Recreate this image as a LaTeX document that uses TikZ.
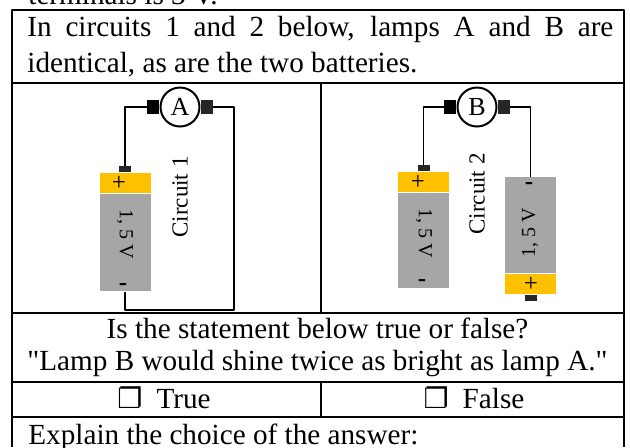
\documentclass[tikz,border=0pt]{standalone}
\usepackage{fontspec}
\setmainfont{Liberation Serif}
\newfontfamily\boxfont{DejaVu Sans}
\usetikzlibrary{positioning}
\definecolor{capyellow}{HTML}{FFC000}
\definecolor{cellgrey}{HTML}{A6A6A6}
\definecolor{plugdark}{HTML}{262626}
\newcommand{\tickbox}{{\boxfont\fontsize{14}{16}\selectfont ❐}}

\begin{document}
\begin{tikzpicture}[
		x=0.5pt,
		y=-0.5pt,
		line join=round,
		txt/.style={inner sep=0pt, font=\fontsize{14.6}{17}\selectfont},
		rule/.style={line width=1pt},
		wire/.style={line width=0.65pt},
		lamp/.style={circle, draw, line width=1pt, minimum size=19.5pt, inner sep=0pt, font=\fontsize{13}{15}\selectfont},
		plug/.style={fill=#1, minimum width=6pt, minimum height=7pt, inner sep=0pt},
		term/.style={fill=plugdark, minimum width=6pt, minimum height=3pt, inner sep=0pt},
		poscap/.style={fill=capyellow, minimum width=25.5pt, minimum height=10pt, inner sep=0pt},
		cell/.style={fill=cellgrey, minimum width=25.5pt, minimum height=#1, inner sep=0pt},
		volt/.style={inner sep=0pt, font=\fontsize{10}{12}\selectfont},
		sign/.style={inner sep=0pt, font=\fontsize{12.5}{14}\selectfont},
		circlabel/.style={inner sep=0pt, font=\fontsize{11.5}{13}\selectfont}
	]
	\useasboundingbox (0,0) rectangle (630,447);
	\clip (0,0) rectangle (630,447);

	% Table rules
	\draw[rule] (12,447) -- (12,10) -- (624,10) -- (624,447);
	\draw[rule] (12,83) -- (624,83);
	\draw[rule] (12,313) -- (624,313);
	\draw[rule] (12,382) -- (624,382);
	\draw[rule] (12,417) -- (624,417);
	\draw[rule] (321,83) -- (321,313);
	\draw[rule] (321,382) -- (321,417);

	% Texts
	\node[txt, anchor=base west] (prev) at (28,4) {terminals is 3 V.};
	\node[txt, anchor=base west] (intro1) at (27,36) {\makebox[293pt][s]{In circuits 1 and 2 below, lamps A and B are}};
	\node[txt, anchor=base west] (intro2) at (27,72) {identical, as are the two batteries.};
	\node[txt, anchor=base] (ask1) at (317.5,338) {Is the statement below true or false?};
	\node[txt, anchor=base] (ask2) at (317.5,370) {\textquotedbl Lamp B would shine twice as bright as lamp A.\textquotedbl};
	\node[txt, anchor=base] (optT) at (164,408) {\tickbox\hspace{7pt}True};
	\node[txt, anchor=base] (optF) at (474,408) {\tickbox\hspace{7pt}False};
	\node[txt, anchor=base west] (explain) at (28,444) {Explain the choice of the answer:};

	% Circuit 1
	\node[lamp] (lampA) at (180,107) {A};
	\node[plug=black, left=0pt of lampA] (A-l) {};
	\node[plug=plugdark, right=0pt of lampA] (A-r) {};
	\node[poscap] (capA) at (125,183) {};
	\node[cell=48.75pt, below=0pt of capA] (cellA) {};
	\node[term, above=0pt of capA] (termA) {};
	\node[sign] at (119,183) {+};
	\node[sign] at (123,287) {\textbf{-}};
	\node[volt, rotate=-90] at (125,234) {1, 5 V};
	\node[circlabel, rotate=90] (nameA) at (180,197) {Circuit 1};
	\coordinate (loopA) at (234,310);
	\draw[wire] (A-l.west) -| (termA.north);
	\draw[wire] (A-r.east) -| (loopA) -| (cellA.south);

	% Circuit 2
	\node[lamp] (lampB) at (477,107) {B};
	\node[plug=black, left=0pt of lampB] (B-l) {};
	\node[plug=plugdark, right=0pt of lampB] (B-r) {};
	\node[poscap] (capB) at (423.5,182) {};
	\node[cell=47.5pt, below=0pt of capB] (cellB) {};
	\node[term, above=0pt of capB] (termB) {};
	\node[sign] at (418,182) {+};
	\node[sign] at (422,283) {\textbf{-}};
	\node[volt, rotate=-90] at (424,233) {1, 5 V};
	\node[cell=48pt, anchor=north] (cellC) at (530.5,177) {};
	\node[poscap, below=0pt of cellC] (capC) {};
	\node[term, below=0pt of capC] (termC) {};
	\node[sign] at (529,186) {\textbf{-}};
	\node[sign] at (531,284) {+};
	\node[volt, rotate=90] at (530,233) {1, 5 V};
	\node[circlabel, rotate=90] (nameB) at (477,194) {Circuit 2};
	\draw[wire] (B-l.west) -| (termB.north);
	\draw[wire] (B-r.east) -| (cellC.north);

\end{tikzpicture}
\end{document}
